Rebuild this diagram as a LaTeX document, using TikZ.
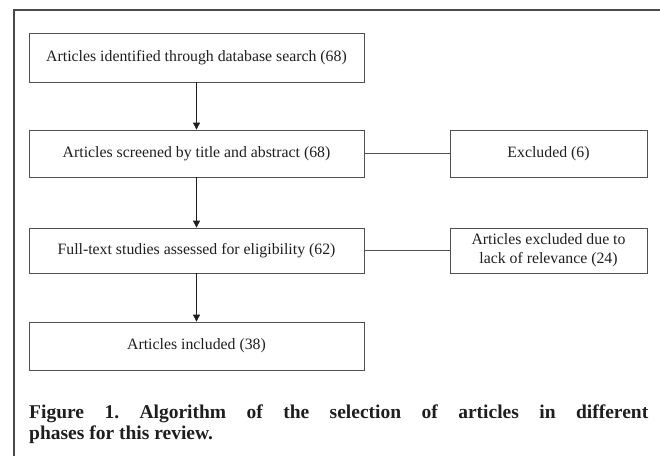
\documentclass[tikz,border=0pt]{standalone}
\usepackage{fontspec}
\setmainfont{Liberation Serif}
\usetikzlibrary{arrows.meta}
\definecolor{framecol}{HTML}{4A4A4A}
\definecolor{boxcol}{HTML}{505050}
\definecolor{txtcol}{HTML}{1E1E1E}
\begin{document}
\begin{tikzpicture}[x=1pt,y=-1pt,
  box/.style={draw=boxcol,line width=0.8pt,minimum width=335pt,inner sep=0pt,
    font=\fontsize{15.8}{18}\selectfont,text=txtcol},
  sidebox/.style={box,minimum width=197pt,align=center},
  arr/.style={draw=txtcol,line width=0.8pt,-{Triangle[length=7pt,width=7pt]}},
  link/.style={draw=boxcol,line width=0.8pt}]
\useasboundingbox (0,0) rectangle (660,456);
\draw[framecol,line width=1.4pt] (14,456) -- (14,10) -- (660,10);
\node[box,minimum height=49pt] (b1) at (196.5,57.5) {Articles identified through database search (68)};
\node[box,minimum height=47pt] (b2) at (196.5,153.5) {Articles screened by title and abstract (68)};
\node[box,minimum height=45pt] (b3) at (196.5,250.5) {Full-text studies assessed for eligibility (62)};
\node[box,minimum height=48pt] (b4) at (196.5,346) {Articles included (38)};
\node[sidebox,minimum height=47pt] (e1) at (548.5,153.5) {Excluded (6)};
\node[sidebox,minimum height=45pt,font=\fontsize{15.8}{19}\selectfont] (e2) at (548.5,250.5) {Articles excluded due to\\lack of relevance (24)};
\draw[arr] (b1) -- (b2);
\draw[arr] (b2) -- (b3);
\draw[arr] (b3) -- (b4);
\draw[link] (b2) -- (e1);
\draw[link] (b3) -- (e2);
\node[anchor=north west,inner sep=0pt,text width=619pt,align=justify,text=txtcol,
  font=\bfseries\fontsize{19.5}{20.5}\selectfont\frenchspacing] (cap) at (29,405)
  {Figure 1. Algorithm of the selection of articles in different\linebreak phases for this review.};
\end{tikzpicture}
\end{document}
